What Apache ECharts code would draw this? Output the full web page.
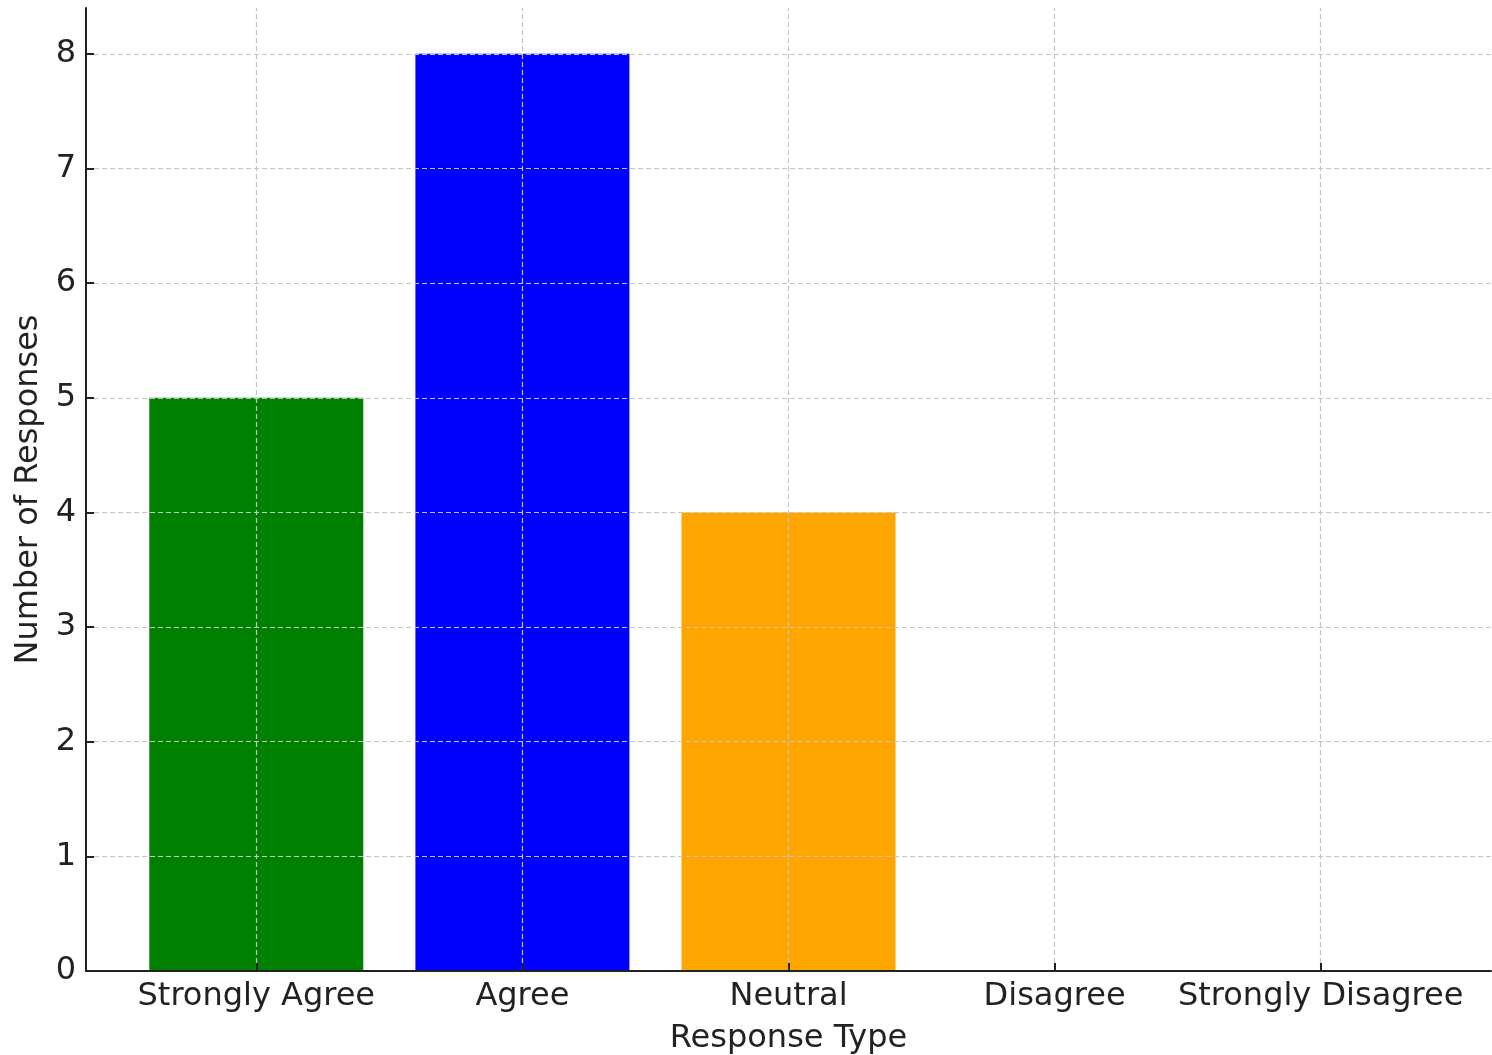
<!DOCTYPE html>
<html><head><meta charset="utf-8">
<script src="https://cdn.jsdelivr.net/npm/echarts@6/dist/echarts.min.js"></script>
<style>html,body{margin:0;padding:0;background:#fff}#c{width:1492px;height:1055px}</style>
</head><body><div id="c"></div>
<script>
const categories = ['Strongly Agree', 'Agree', 'Neutral', 'Disagree', 'Strongly Disagree'];
const responses = [5, 8, 4, 0, 0];
const barColors = ['#008000', '#0000ff', '#ffa500', '#d62728', '#8b0000'];
const yTicks = [0, 1, 2, 3, 4, 5, 6, 7, 8];

const positions = categories.map((c, i) => i);
const font = 'DejaVu Sans';
const fs = 32;
const grid = { color: '#c4c4c4', width: 1.2, type: [5, 3] };

const chart = echarts.init(document.getElementById('c'), null, { renderer: 'canvas' });
chart.setOption({
  animation: false,
  backgroundColor: '#fff',
  grid: { left: 86, right: 1, top: 8, bottom: 84, containLabel: false, outerBoundsMode: 'none' },
  xAxis: {
    type: 'value', min: -0.64, max: 4.64,
    name: 'Response Type', nameLocation: 'middle', nameGap: 52,
    nameTextStyle: { fontFamily: font, fontSize: fs, color: '#222' },
    axisLine: { show: true, onZero: false, lineStyle: { color: '#222', width: 2 } },
    axisTick: { show: true, inside: true, length: 8, customValues: positions, lineStyle: { color: '#222', width: 2 } },
    axisLabel: { customValues: positions, margin: 10, fontFamily: font, fontSize: fs, color: '#222',
      formatter: v => categories[Math.round(v)] },
    splitLine: { show: false },
    z: 10
  },
  yAxis: {
    type: 'value', min: 0, max: 8.4,
    name: 'Number of Responses', nameLocation: 'middle', nameGap: 39,
    nameTextStyle: { fontFamily: font, fontSize: fs, color: '#222' },
    axisLine: { show: true, onZero: false, lineStyle: { color: '#222', width: 2 } },
    axisTick: { show: true, inside: true, length: 8, customValues: yTicks, lineStyle: { color: '#222', width: 2 } },
    axisLabel: { customValues: yTicks, margin: 10, fontFamily: font, fontSize: fs, color: '#222',
      formatter: v => String(v) },
    splitLine: { show: false },
    z: 10
  },
  series: [{
    type: 'bar', barWidth: 214,
    data: responses.map((v, i) => ({ value: [i, v], itemStyle: { color: barColors[i] } })),
    z: 1,
    markLine: {
      silent: true, symbol: 'none', label: { show: false },
      lineStyle: grid,
      data: positions.map(p => ({ xAxis: p })).concat(yTicks.slice(1).map(t => ({ yAxis: t }))),
      z: 5
    }
  }]
});
</script></body></html>
